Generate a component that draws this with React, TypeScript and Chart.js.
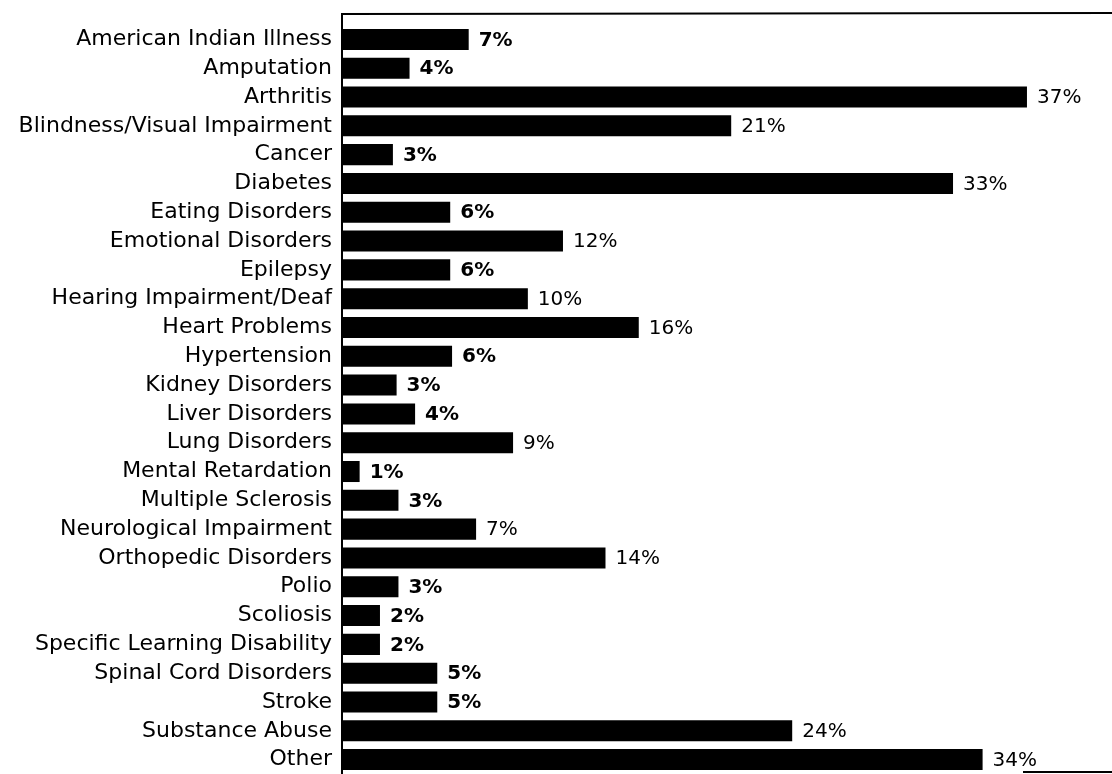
import React, { useEffect, useRef } from "react";
import { Chart, registerables } from "chart.js";

Chart.register(...registerables);

const categories = [
  "American Indian Illness",
  "Amputation",
  "Arthritis",
  "Blindness/Visual Impairment",
  "Cancer",
  "Diabetes",
  "Eating Disorders",
  "Emotional Disorders",
  "Epilepsy",
  "Hearing Impairment/Deaf",
  "Heart Problems",
  "Hypertension",
  "Kidney Disorders",
  "Liver Disorders",
  "Lung Disorders",
  "Mental Retardation",
  "Multiple Sclerosis",
  "Neurological Impairment",
  "Orthopedic Disorders",
  "Polio",
  "Scoliosis",
  "Specific Learning Disability",
  "Spinal Cord Disorders",
  "Stroke",
  "Substance Abuse",
  "Other",
];

const values = [
  6.8, 3.6, 37, 21, 2.7, 33, 5.8, 11.9, 5.8, 10, 16, 5.9, 2.9, 3.9, 9.2, 0.9,
  3, 7.2, 14.2, 3, 2, 2, 5.1, 5.1, 24.3, 34.6,
];

const valueLabels = [
  "7%", "4%", "37%", "21%", "3%", "33%", "6%", "12%", "6%", "10%", "16%",
  "6%", "3%", "4%", "9%", "1%", "3%", "7%", "14%", "3%", "2%", "2%", "5%",
  "5%", "24%", "34%",
];

export default function App() {
  const ref = useRef<HTMLCanvasElement | null>(null);

  useEffect(() => {
    if (!ref.current) return;
    const boldIdx = new Set([0, 1, 4, 6, 8, 11, 12, 13, 15, 16, 19, 20, 21, 22, 23]);

    const labelPlugin = {
      id: "valueLabels",
      afterDatasetsDraw(chart: any) {
        const ctx = chart.ctx;
        const meta = chart.getDatasetMeta(0);
        ctx.save();
        ctx.fillStyle = "#000";
        ctx.textBaseline = "middle";
        ctx.textAlign = "left";
        meta.data.forEach((el: any, i: number) => {
          ctx.font = `${boldIdx.has(i) ? "bold " : ""}20px "DejaVu Sans"`;
          ctx.fillText(valueLabels[i], el.x + 10, el.y + 1);
        });
        ctx.restore();
      },
    };

    const framePlugin = {
      id: "frame",
      afterDraw(chart: any) {
        const ctx = chart.ctx;
        const a = chart.chartArea;
        ctx.save();
        ctx.strokeStyle = "#000";
        ctx.lineWidth = 2;
        ctx.beginPath();
        ctx.moveTo(a.left - 1, chart.height);
        ctx.lineTo(a.left - 1, a.top - 11);
        ctx.lineTo(chart.width, a.top - 12);
        ctx.stroke();
        ctx.beginPath();
        ctx.moveTo(a.left + 680, chart.height - 2);
        ctx.lineTo(chart.width, chart.height - 2);
        ctx.stroke();
        ctx.restore();
      },
    };

    const chart = new Chart(ref.current, {
      type: "bar",
      data: {
        labels: categories,
        datasets: [
          {
            data: values,
            backgroundColor: "#000",
            borderWidth: 0,
            barPercentage: 0.73,
            categoryPercentage: 1,
          },
        ],
      },
      options: {
        indexAxis: "y",
        animation: false,
        responsive: false,
        maintainAspectRatio: false,
        layout: { padding: { top: 25, right: 0, bottom: 0, left: 0 } },
        plugins: {
          legend: { display: false },
          tooltip: { enabled: false },
        },
        scales: {
          x: {
            display: false,
            min: 0,
            max: 41.6,
          },
          y: {
            afterFit(scale: any) {
              scale.width = 343;
              scale.paddingTop = 0;
              scale.paddingBottom = 0;
            },
            grid: { display: false, drawTicks: false, tickLength: 0 },
            border: { display: false },
            ticks: {
              color: "#000",
              padding: 11,
              autoSkip: false,
              font: { family: "DejaVu Sans", size: 22 },
            },
          },
        },
      },
      plugins: [labelPlugin, framePlugin],
    });
    return () => chart.destroy();
  }, []);

  return (
    <div style={{ position: "fixed", left: 0, top: 0, width: 1112, height: 774, background: "#fff" }}>
      <canvas ref={ref} width={1112} height={774} style={{ width: 1112, height: 774 }} />
    </div>
  );
}
